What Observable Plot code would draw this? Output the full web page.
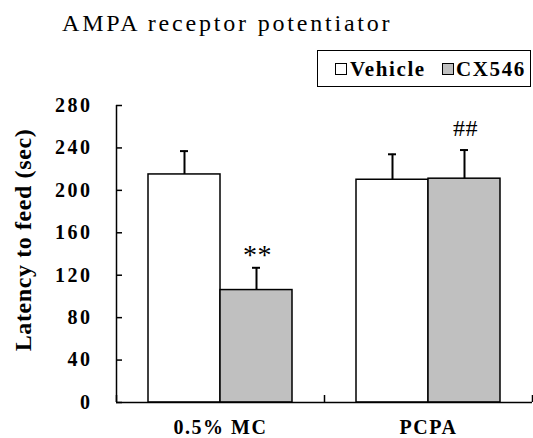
<!DOCTYPE html>
<html>
<head>
<meta charset="utf-8">
<script src="https://cdn.jsdelivr.net/npm/d3@7"></script>
<script src="https://cdn.jsdelivr.net/npm/@observablehq/plot@0.6"></script>
<style>
  body { margin: 0; background: #fff; }
  #wrap { width: 533px; height: 438px; position: relative; overflow: hidden; font-family: "Liberation Serif", "DejaVu Serif", "Noto Serif", "Times New Roman", serif; color: #000; }
  #header { position: relative; width: 533px; height: 90px; }
  #title { position: absolute; left: 62px; top: 11px; font-size: 24px; line-height: 24px; letter-spacing: 2.8px; white-space: nowrap; }
  #legendbox { position: absolute; left: 317px; top: 50px; width: 212px; height: 35px; border: 1.5px solid #000; }
  .sw { position: absolute; width: 10px; height: 10px; border: 1.2px solid #000; }
  .lt { position: absolute; font-size: 21px; line-height: 21px; font-weight: bold; letter-spacing: 1.6px; white-space: nowrap; }
  svg text { font-family: "Liberation Serif", "DejaVu Serif", "Noto Serif", "Times New Roman", serif; }
  g[aria-label="y-axis tick label"] text { letter-spacing: 2.5px; }
  g[aria-label="x-axis tick label"] text { letter-spacing: 1.5px; }
  g[aria-label="text"] text { letter-spacing: 0.6px; }
</style>
</head>
<body>
<div id="wrap">
  <div id="header">
    <div id="title">AMPA receptor potentiator</div>
    <div id="legendbox"></div>
    <div class="sw" style="left:335px;top:63px;background:#fff;"></div>
    <div class="lt" style="left:350px;top:59px;">Vehicle</div>
    <div class="sw" style="left:442px;top:63px;background:#c0c0c0;"></div>
    <div class="lt" style="left:456px;top:59px;">CX546</div>
  </div>
  <div id="chart"></div>
</div>
<script>
const groups = ["0.5% MC", "PCPA"];
const vehicleMean = [215, 210];
const vehicleSem = [22, 24];
const cx546Mean = [106, 211];
const cx546Sem = [21, 27];
const sigLabels = ["**", "##"];
const yTicks = [0, 40, 80, 120, 160, 200, 240, 280];
const yLabel = "Latency to feed (sec)";

const vehRows = groups.map((g, i) => ({i, group: g, value: vehicleMean[i], sem: vehicleSem[i]}));
const cxRows = groups.map((g, i) => ({i, group: g, value: cx546Mean[i], sem: cx546Sem[i], sig: sigLabels[i]}));
const boundaries = d3.range(groups.length + 1);
const starRows = cxRows.filter(d => d.sig === "**");
const hashRows = cxRows.filter(d => d.sig === "##");

const bold = {fontWeight: "bold"};

const plot = Plot.plot({
  width: 533,
  height: 348,
  marginTop: 15,
  marginBottom: 36,
  marginLeft: 116,
  marginRight: 1,
  style: {fontFamily: "Liberation Serif, DejaVu Serif, Noto Serif, Times New Roman, serif", color: "#000", background: "#fff", overflow: "visible"},
  x: {type: "linear", domain: [0, groups.length]},
  y: {domain: [0, 280]},
  marks: [
    Plot.rectY(vehRows, {x1: "i", x2: d => d.i + 1, y: "value", fill: "#fff", stroke: "#000", strokeWidth: 1.5, insetLeft: 32, insetRight: 104}),
    Plot.rectY(cxRows, {x1: "i", x2: d => d.i + 1, y: "value", fill: "#c0c0c0", stroke: "#000", strokeWidth: 1.5, insetLeft: 104, insetRight: 32}),
    Plot.ruleX(vehRows, {x: d => d.i + 0.5, dx: -36, y1: "value", y2: d => d.value + d.sem, stroke: "#000", strokeWidth: 2}),
    Plot.ruleX(cxRows, {x: d => d.i + 0.5, dx: 36, y1: "value", y2: d => d.value + d.sem, stroke: "#000", strokeWidth: 2}),
    Plot.ruleY(vehRows, {y: d => d.value + d.sem, x1: d => d.i + 0.5, x2: d => d.i + 0.5, dx: -36, insetLeft: -4, insetRight: -4, stroke: "#000", strokeWidth: 2}),
    Plot.ruleY(cxRows, {y: d => d.value + d.sem, x1: d => d.i + 0.5, x2: d => d.i + 0.5, dx: 36, insetLeft: -4, insetRight: -4, stroke: "#000", strokeWidth: 2}),
    Plot.text(starRows, {x: d => d.i + 0.5, dx: 37, y: d => d.value + d.sem, dy: -13, text: "sig", fontSize: 28, fill: "#000"}),
    Plot.text(hashRows, {x: d => d.i + 0.5, dx: 37, y: d => d.value + d.sem, dy: -22, text: "sig", fontSize: 24, fill: "#000"}),
    // axis lines
    Plot.ruleX([0], {stroke: "#000", strokeWidth: 1.5}),
    Plot.ruleY([0], {stroke: "#000", strokeWidth: 1.5}),
    // inward ticks on y axis
    Plot.ruleY(yTicks, {y: d => d, x1: 0, x2: 0, insetRight: -6, stroke: "#000", strokeWidth: 1.5}),
    // inward ticks at group boundaries on x axis
    Plot.ruleX(boundaries, {x: d => d, y1: 0, y2: 0, insetTop: -7, stroke: "#000", strokeWidth: 1.5}),
    Plot.axisX({ticks: groups.map((g, i) => i + 0.5), tickFormat: d => groups[Math.floor(d)], tickSize: 0, tickPadding: 17, label: null, fontSize: 20, ...bold}),
    Plot.axisY({ticks: yTicks, tickSize: 0, tickPadding: 3, dx: -21, label: null, fontSize: 20, ...bold}),
    Plot.text([yLabel], {frameAnchor: "left", textAnchor: "middle", rotate: -90, dx: -93, dy: -14, fontSize: 24, fill: "#000", ...bold})
  ]
});
document.getElementById("chart").appendChild(plot);
</script>
</body>
</html>
